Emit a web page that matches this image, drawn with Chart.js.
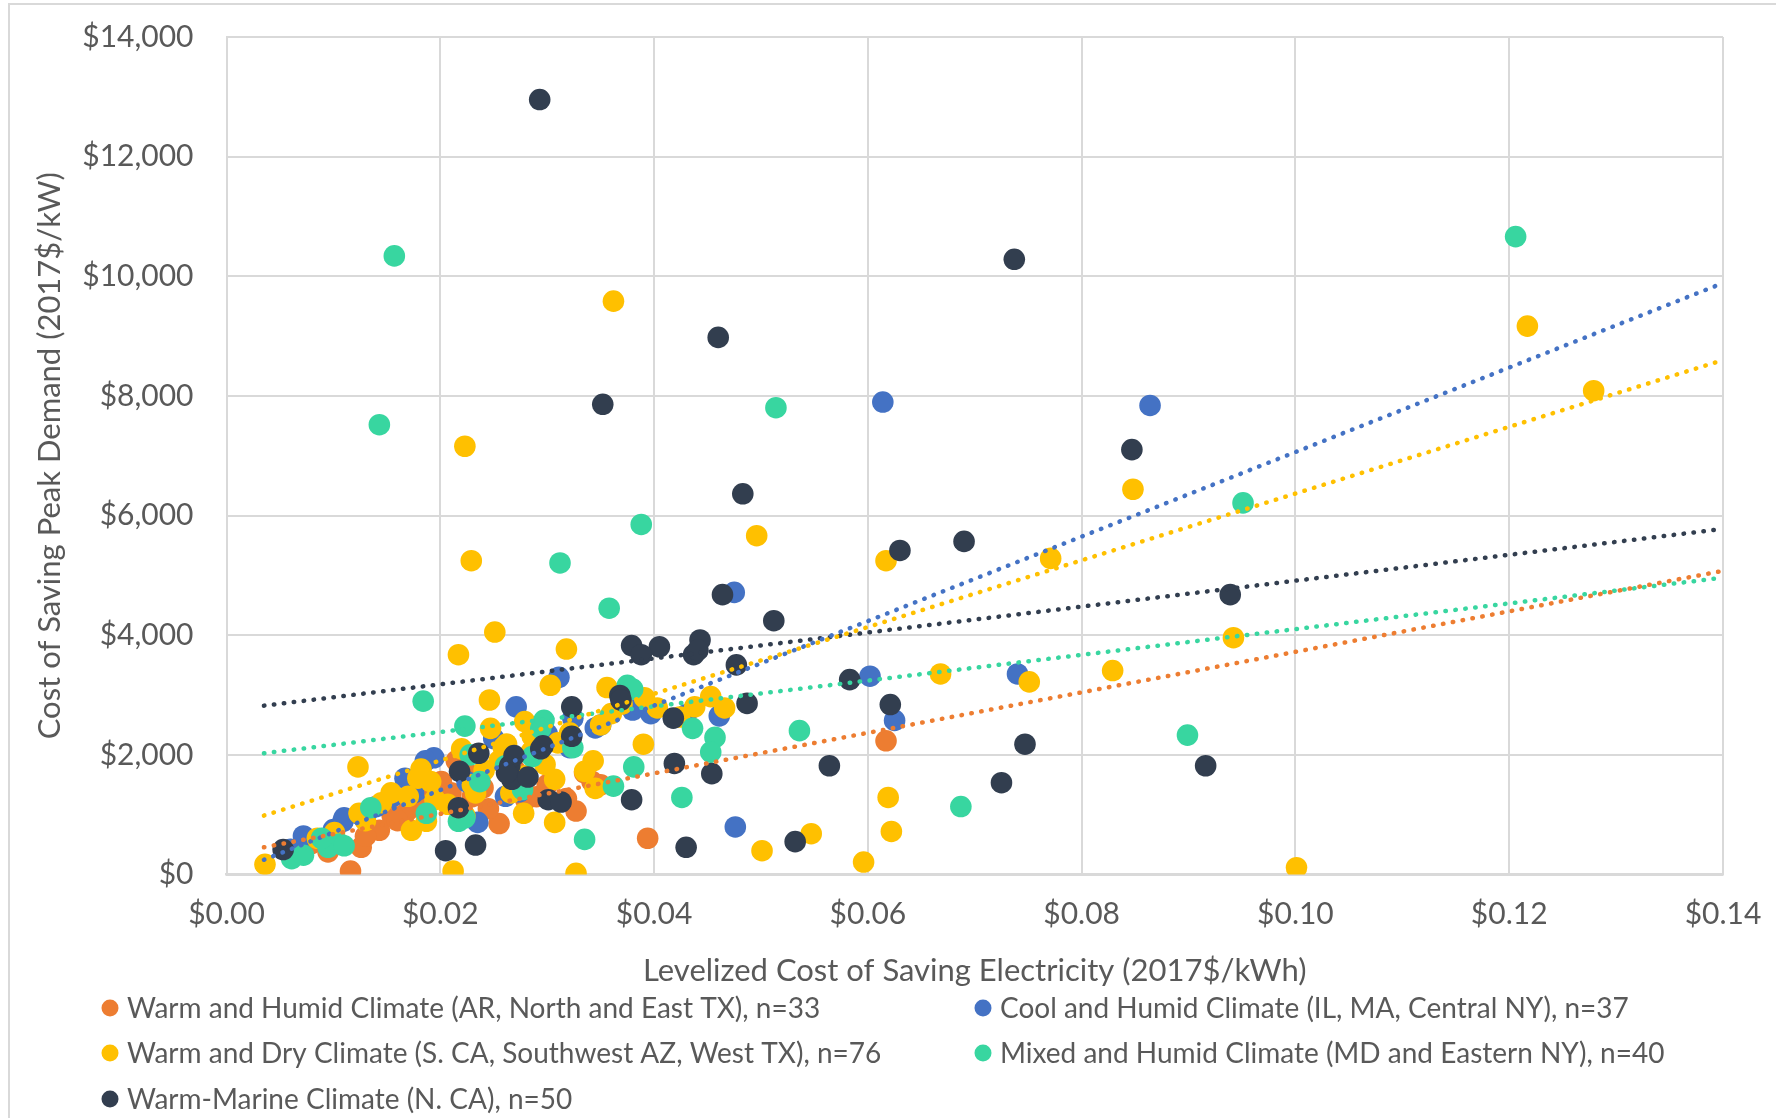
<!DOCTYPE html>
<html>
<head>
<meta charset="utf-8">
<script src="https://cdn.jsdelivr.net/npm/chart.js@4.4.0/dist/chart.umd.min.js"></script>
<style>
  html, body { margin: 0; padding: 0; background: #fff; }
  #chart { display: block; }
</style>
</head>
<body>
<canvas id="chart" width="1776" height="1118"></canvas>
<script>
// series: [levelized cost $/kWh, peak demand cost $/kW]
const warmHumid = [
  [0.0617,2235],[0.0394,606],[0.0116,57],[0.0255,852],[0.0327,1061],[0.0155,985],[0.0143,739],
  [0.0126,455],[0.0095,379],[0.0079,511],[0.0201,1553],[0.0210,1364],[0.0270,1742],[0.0342,1553],
  [0.0318,1269],[0.0130,640],[0.0170,1080],[0.0185,1250],[0.0225,1700],[0.0240,1450],[0.0260,1900],
  [0.0290,1300],[0.0335,1700],[0.0160,900],[0.0105,520],[0.0230,1300],[0.0300,1500],[0.0350,1500],
  [0.0215,1900],[0.0185,1500],[0.0068,350],[0.0245,1100],[0.0280,1250]
];
const coolHumid = [
  [0.0864,7841],[0.0614,7898],[0.0475,4716],[0.0740,3352],[0.0602,3315],[0.0625,2576],[0.0476,795],
  [0.0311,3296],[0.0271,2803],[0.0324,2614],[0.0350,2500],[0.0430,2671],[0.0461,2652],[0.0250,2273],
  [0.0194,1951],[0.0321,2121],[0.0172,1553],[0.0140,1136],[0.0109,890],[0.0072,644],[0.0235,871],
  [0.0274,1383],[0.0175,1364],[0.0397,2689],[0.0261,1307],[0.0110,947],[0.0167,1610],[0.0186,1900],
  [0.0125,1000],[0.0380,2750],[0.0345,2450],[0.0290,2000],[0.0225,1550],[0.0100,750],[0.0060,420],
  [0.0155,1300],[0.0300,2350]
];
const warmDry = [
  [0.1217,9167],[0.1279,8087],[0.0362,9584],[0.0223,7159],[0.0848,6440],[0.0496,5663],[0.0229,5246],
  [0.0617,5246],[0.0771,5284],[0.0251,4053],[0.0942,3958],[0.0217,3674],[0.0318,3769],[0.0668,3352],
  [0.0829,3409],[0.0751,3220],[0.0303,3163],[0.0356,3125],[0.0246,2917],[0.0391,2955],[0.0453,2974],
  [0.0466,2784],[0.0390,2178],[0.0619,1288],[0.0622,720],[0.0547,682],[0.0501,398],[0.0596,208],
  [0.1001,114],[0.0327,19],[0.0212,57],[0.0036,170],[0.0123,1799],[0.0307,871],[0.0278,1023],
  [0.0182,1761],[0.0335,1724],[0.0345,1439],[0.0307,1591],[0.0259,2121],[0.0286,2311],[0.0321,2368],
  [0.0350,2500],[0.0170,1307],[0.0154,1364],[0.0173,739],[0.0187,890],[0.0223,985],[0.0233,1364],
  [0.0207,1174],[0.0124,1023],[0.0101,701],[0.0085,606],[0.0241,1742],[0.0266,1364],[0.0360,2689],
  [0.0403,2784],[0.0438,2803],[0.0424,2633],[0.0191,1553],[0.0279,2557],[0.0247,2443],[0.0262,2180],
  [0.0298,1840],[0.0343,1900],[0.0179,1610],[0.0230,1500],[0.0280,1650],[0.0130,900],[0.0145,1200],
  [0.0195,1250],[0.0255,1900],[0.0370,2850],[0.0310,2200],[0.0220,2100],[0.0285,2050]
];
const mixedHumid = [
  [0.1206,10663],[0.0157,10341],[0.0143,7519],[0.0514,7803],[0.0388,5852],[0.0951,6212],[0.0312,5208],
  [0.0358,4451],[0.0184,2898],[0.0375,3163],[0.0223,2481],[0.0297,2576],[0.0536,2405],[0.0457,2292],
  [0.0453,2046],[0.0436,2443],[0.0899,2330],[0.0381,1799],[0.0362,1477],[0.0426,1288],[0.0687,1136],
  [0.0335,587],[0.0237,1553],[0.0187,1023],[0.0135,1117],[0.0106,511],[0.0095,455],[0.0061,265],
  [0.0072,322],[0.0324,2121],[0.0286,1970],[0.0294,2443],[0.0228,2000],[0.0217,890],[0.0261,1818],
  [0.0277,1420],[0.0223,947],[0.0089,606],[0.0110,480],[0.0380,3100]
];
const warmMarine = [
  [0.0293,12955],[0.0737,10284],[0.0460,8978],[0.0352,7860],[0.0847,7103],[0.0483,6364],[0.0690,5568],
  [0.0630,5417],[0.0464,4678],[0.0939,4678],[0.0512,4243],[0.0443,3921],[0.0379,3826],[0.0405,3807],
  [0.0388,3674],[0.0437,3674],[0.0477,3504],[0.0368,2993],[0.0323,2803],[0.0487,2860],[0.0583,3258],
  [0.0621,2841],[0.0418,2614],[0.0747,2178],[0.0419,1856],[0.0564,1818],[0.0454,1686],[0.0725,1534],
  [0.0916,1818],[0.0379,1250],[0.0218,1724],[0.0294,2102],[0.0236,2027],[0.0265,1818],[0.0267,1591],
  [0.0282,1629],[0.0217,1117],[0.0301,1250],[0.0313,1212],[0.0233,492],[0.0205,398],[0.0430,455],
  [0.0532,549],[0.0053,417],[0.0369,2917],[0.0323,2311],[0.0269,1989],[0.0441,3750],[0.0296,2150],
  [0.0262,1700]
];

// linear trendlines, [start, end]
const trendWarmHumid  = [[0.0035,455],[0.14,5076]];
const trendCoolHumid  = [[0.0035,246],[0.14,9887]];
const trendWarmDry    = [[0.0035,985],[0.14,8599]];
const trendMixedHumid = [[0.0035,2027],[0.14,4962]];
const trendWarmMarine = [[0.0035,2822],[0.14,5777]];

const seriesLabels = [
  'Warm and Humid Climate (AR, North and East TX), n=33',
  'Cool and Humid Climate (IL, MA, Central NY), n=37',
  'Warm and Dry Climate (S. CA, Southwest AZ, West TX), n=76',
  'Mixed and Humid Climate (MD and Eastern NY), n=40',
  'Warm-Marine Climate (N. CA), n=50'
];
const colors = ['#ED7D31', '#4472C4', '#FFC000', '#38D6A0', '#323E4F'];

const xTicks = [0, 0.02, 0.04, 0.06, 0.08, 0.10, 0.12, 0.14];
const yTicks = [0, 2000, 4000, 6000, 8000, 10000, 12000, 14000];

const textColor = '#595959';
const gridColor = '#D9D9D9';
const fontFamily = 'Lato, "Open Sans", sans-serif';

const toPts = arr => arr.map(p => ({ x: p[0], y: p[1] }));

const scatterSets = [warmHumid, coolHumid, warmDry, mixedHumid, warmMarine];
const trendSets = [trendWarmHumid, trendCoolHumid, trendWarmDry, trendMixedHumid, trendWarmMarine];

const datasets = [];
scatterSets.forEach((s, i) => {
  datasets.push({
    type: 'scatter',
    label: seriesLabels[i],
    data: toPts(s),
    backgroundColor: colors[i],
    borderWidth: 0,
    pointRadius: 10.8,
    pointHoverRadius: 10.8,
    order: 10 - i   // later series drawn on top, as in the original
  });
});
trendSets.forEach((t, i) => {
  datasets.push({
    type: 'line',
    label: 'trend ' + i,
    data: toPts(t),
    borderColor: colors[i],
    borderWidth: 4.5,
    borderDash: [0.5, 9.5],
    borderCapStyle: 'round',
    pointRadius: 0,
    fill: false,
    order: 0
  });
});

// legend in two columns + outer frame
const frameAndLegend = {
  id: 'frameAndLegend',
  beforeDraw(chart) {
    const ctx = chart.ctx;
    ctx.save();
    ctx.strokeStyle = gridColor;
    ctx.lineWidth = 2;
    ctx.beginPath();
    ctx.moveTo(9, 1118);
    ctx.lineTo(9, 4);
    ctx.lineTo(1776, 4);
    ctx.stroke();
    ctx.restore();
  },
  afterDraw(chart) {
    const ctx = chart.ctx;
    const colX = [110, 983];
    const rowY = [1008, 1053, 1099];
    ctx.save();
    ctx.font = '28px ' + fontFamily;
    ctx.textBaseline = 'middle';
    ctx.textAlign = 'left';
    seriesLabels.forEach((lab, i) => {
      const x = colX[i % 2];
      const y = rowY[Math.floor(i / 2)];
      ctx.fillStyle = colors[i];
      ctx.beginPath();
      ctx.arc(x, y, 8.5, 0, Math.PI * 2);
      ctx.fill();
      ctx.fillStyle = textColor;
      ctx.fillText(lab, x + 17, y + 1);
    });
    ctx.restore();
  }
};

const config = {
  type: 'scatter',
  data: { datasets: datasets },
  options: {
    responsive: false,
    animation: false,
    layout: { padding: { left: 9, top: 37, right: 53, bottom: 128 } },
    plugins: {
      legend: { display: false },
      tooltip: { enabled: false }
    },
    scales: {
      x: {
        type: 'linear',
        min: 0,
        max: 0.14,
        afterBuildTicks: s => { s.ticks = xTicks.map(v => ({ value: v })); },
        afterFit: s => { s.height = 115.5; },
        grid: { color: gridColor, lineWidth: 2, drawTicks: true, tickLength: 22, tickColor: 'rgba(0,0,0,0)' },
        border: { color: gridColor, width: 2.5 },
        ticks: {
          padding: 0,
          color: textColor,
          font: { family: fontFamily, size: 30 },
          maxRotation: 0,
          callback: v => '$' + Number(v).toFixed(2)
        },
        title: {
          display: true,
          text: 'Levelized Cost of Saving Electricity (2017$/kWh)',
          color: textColor,
          font: { family: fontFamily, size: 31 },
          padding: { top: 0, bottom: 0 }
        }
      },
      y: {
        type: 'linear',
        min: 0,
        max: 14000,
        afterBuildTicks: s => { s.ticks = yTicks.map(v => ({ value: v })); },
        afterFit: s => { s.width = 217.5; },
        grid: { color: gridColor, lineWidth: 2, drawTicks: true, tickLength: 33, tickColor: 'rgba(0,0,0,0)' },
        border: { color: gridColor, width: 2 },
        ticks: {
          padding: 0,
          color: textColor,
          font: { family: fontFamily, size: 30 },
          callback: v => '$' + Number(v).toLocaleString('en-US')
        },
        title: {
          display: true,
          text: 'Cost of Saving Peak Demand (2017$/kW)',
          color: textColor,
          font: { family: fontFamily, size: 31 },
          padding: { top: 22, bottom: 0 }
        }
      }
    }
  },
  plugins: [frameAndLegend]
};

const myChart = new Chart(document.getElementById('chart'), config);
</script>
</body>
</html>
